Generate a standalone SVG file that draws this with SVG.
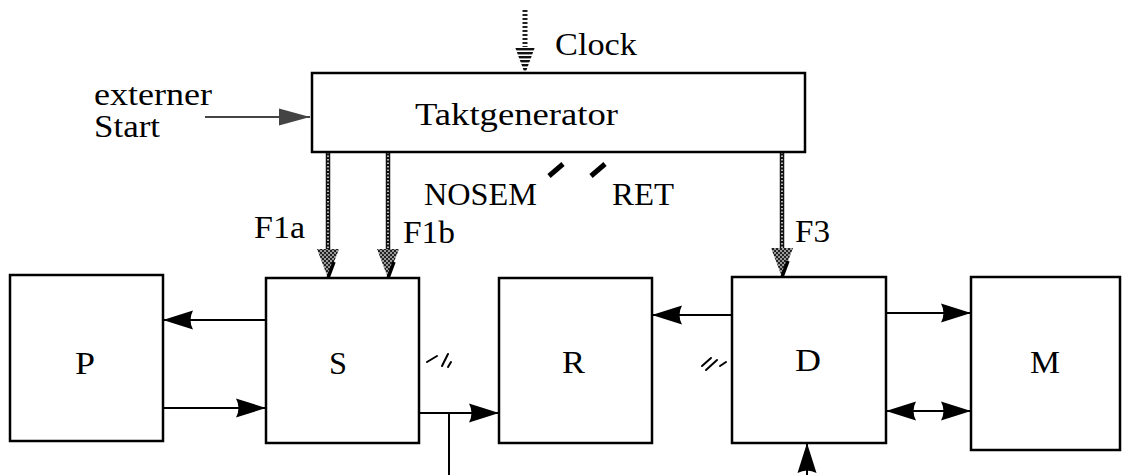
<svg xmlns="http://www.w3.org/2000/svg" width="1122" height="475" viewBox="0 0 1122 475">
<style>
.box{fill:#fff;stroke:#000;stroke-width:2.5}
.lbl{font-family:"Liberation Serif","Times New Roman",serif;font-size:31px;fill:#000}
.wire{stroke:#000;stroke-width:2;fill:none}
.clk{stroke:#111;stroke-width:4.5;fill:none}
.clkdot{stroke:#ddd;stroke-width:1.6;stroke-dasharray:1.5 2;fill:none}
.slash{stroke:#000;stroke-width:2;stroke-linecap:round}
.thick{stroke:#000;stroke-width:5}
.chead{fill:url(#chk)}
.cdiag{stroke:#000;stroke-width:3.5}
</style>
<defs>
<pattern id="chk" width="4" height="4" patternUnits="userSpaceOnUse">
<rect width="4" height="4" fill="#999"/><rect width="2" height="2" fill="#222"/><rect x="2" y="2" width="2" height="2" fill="#222"/>
</pattern>
<pattern id="hstr" width="4" height="4" patternUnits="userSpaceOnUse">
<rect width="4" height="4" fill="#fff"/><rect width="4" height="2.4" fill="#111"/>
</pattern>
<marker id="ah" markerUnits="userSpaceOnUse" markerWidth="34" markerHeight="22" refX="30" refY="10" orient="auto-start-reverse" overflow="visible">
<path d="M30,10 L0,0.5 Q5,10 0,19.5 Z" fill="#000"/>
</marker>
<marker id="ahg" markerUnits="userSpaceOnUse" markerWidth="34" markerHeight="22" refX="31" refY="10" orient="auto" overflow="visible">
<path d="M31,10 L0,1.5 L0,18.5 Z" fill="#444"/>
</marker>
</defs>

<g id="connectors">
<line class="wire" x1="266" y1="320" x2="163" y2="320" marker-end="url(#ah)"/>
<line class="wire" x1="163" y1="408" x2="266" y2="408" marker-end="url(#ah)"/>
<line class="wire" x1="419" y1="413" x2="499" y2="413" marker-end="url(#ah)"/>
<line class="wire" x1="449" y1="413" x2="449" y2="475"/>
<line class="wire" x1="732" y1="315" x2="652" y2="315" marker-end="url(#ah)"/>
<line class="wire" x1="886" y1="313" x2="971" y2="313" marker-end="url(#ah)"/>
<line class="wire" x1="886" y1="411" x2="971" y2="411" marker-start="url(#ah)" marker-end="url(#ah)"/>
<line class="wire" x1="807" y1="475" x2="807" y2="443" marker-end="url(#ah)"/>
<line x1="205" y1="117" x2="310" y2="117" stroke="#444" stroke-width="2" marker-end="url(#ahg)"/>
<line x1="525" y1="10" x2="525" y2="50" stroke="#222" stroke-width="5" stroke-dasharray="2 2"/>
<path d="M515,47 L535,47 L525,74 Z" fill="url(#hstr)"/>
<line class="clk" x1="328" y1="152" x2="328" y2="252"/>
<line class="clkdot" x1="328" y1="152" x2="328" y2="252"/>
<path class="chead" d="M317,249 L339,249 L328,278 Z"/>
<line class="cdiag" x1="328" y1="278" x2="334" y2="262"/>
<line class="clk" x1="388" y1="152" x2="388" y2="252"/>
<line class="clkdot" x1="388" y1="152" x2="388" y2="252"/>
<path class="chead" d="M377,249 L399,249 L388,278 Z"/>
<line class="cdiag" x1="388" y1="278" x2="394" y2="262"/>
<line class="clk" x1="782" y1="152" x2="782" y2="251"/>
<line class="clkdot" x1="782" y1="152" x2="782" y2="251"/>
<path class="chead" d="M771,248 L793,248 L782,277 Z"/>
<line class="cdiag" x1="782" y1="277" x2="788" y2="261"/>
<line class="thick" x1="549" y1="176" x2="563" y2="164"/>
<line class="thick" x1="591" y1="176" x2="605" y2="164"/>
<line class="slash" x1="427" y1="362" x2="437" y2="356"/>
<line class="slash" x1="442" y1="366" x2="448" y2="354"/>
<line class="slash" x1="448" y1="367" x2="451" y2="362"/>
<line class="slash" x1="702" y1="366" x2="711" y2="358"/>
<line class="slash" x1="706" y1="370" x2="717" y2="360"/>
<line class="slash" x1="720" y1="366" x2="726" y2="362"/>
</g>

<g id="taktgenerator">
<rect class="box" x="312" y="73" width="493" height="79"/>
<text class="lbl" x="415" y="125" textLength="203" lengthAdjust="spacingAndGlyphs">Taktgenerator</text>
</g>
<g id="node-P">
<rect class="box" x="10" y="275" width="153" height="166"/>
<text class="lbl" x="75" y="374" textLength="20" lengthAdjust="spacingAndGlyphs">P</text>
</g>
<g id="node-S">
<rect class="box" x="266" y="278" width="153" height="165"/>
<text class="lbl" x="329" y="374" textLength="18" lengthAdjust="spacingAndGlyphs">S</text>
</g>
<g id="node-R">
<rect class="box" x="499" y="278" width="153" height="165"/>
<text class="lbl" x="562" y="373" textLength="23" lengthAdjust="spacingAndGlyphs">R</text>
</g>
<g id="node-D">
<rect class="box" x="732" y="277" width="154" height="166"/>
<text class="lbl" x="795" y="371" textLength="26" lengthAdjust="spacingAndGlyphs">D</text>
</g>
<g id="node-M">
<rect class="box" x="971" y="277" width="149" height="173"/>
<text class="lbl" x="1030" y="373" textLength="30" lengthAdjust="spacingAndGlyphs">M</text>
</g>

<g id="labels">
<text class="lbl" x="555" y="55" textLength="82" lengthAdjust="spacingAndGlyphs">Clock</text>
<text class="lbl" x="94" y="105" textLength="118" lengthAdjust="spacingAndGlyphs">externer</text>
<text class="lbl" x="94" y="137" textLength="66" lengthAdjust="spacingAndGlyphs">Start</text>
<text class="lbl" x="424" y="205" textLength="113" lengthAdjust="spacingAndGlyphs">NOSEM</text>
<text class="lbl" x="612" y="205" textLength="62" lengthAdjust="spacingAndGlyphs">RET</text>
<text class="lbl" x="254" y="238" textLength="51" lengthAdjust="spacingAndGlyphs">F1a</text>
<text class="lbl" x="403" y="243" textLength="52" lengthAdjust="spacingAndGlyphs">F1b</text>
<text class="lbl" x="795" y="242" textLength="35" lengthAdjust="spacingAndGlyphs">F3</text>
</g>
</svg>
